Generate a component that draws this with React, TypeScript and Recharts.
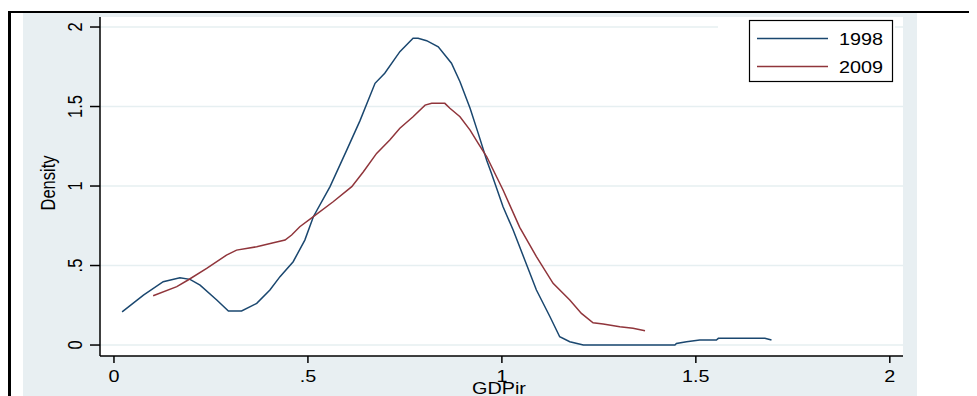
import React from "react";
import { LineChart, Line, XAxis, YAxis, CartesianGrid, Legend } from "recharts";

const seriesNames = ["1998", "2009"];
const xTicks = [0, 0.5, 1, 1.5, 2];
const yTicks = [0, 0.5, 1, 1.5, 2];
const tickLabels: Record<string, string> = { "0": "0", "0.5": ".5", "1": "1", "1.5": "1.5", "2": "2" };

const x1998 = [0.021, 0.076, 0.127, 0.17, 0.196, 0.222, 0.265, 0.295, 0.329, 0.368, 0.402, 0.428, 0.462, 0.492, 0.514, 0.557, 0.6, 0.634, 0.673, 0.698, 0.737, 0.771, 0.784, 0.806, 0.836, 0.87, 0.892, 0.918, 0.939, 0.961, 0.973, 1.003, 1.029, 1.059, 1.089, 1.124, 1.149, 1.175, 1.21, 1.446, 1.45, 1.476, 1.51, 1.553, 1.558, 1.678, 1.695];
const d1998 = [0.209, 0.314, 0.398, 0.423, 0.413, 0.377, 0.283, 0.214, 0.214, 0.262, 0.346, 0.43, 0.524, 0.66, 0.807, 0.996, 1.226, 1.41, 1.646, 1.709, 1.845, 1.929, 1.929, 1.914, 1.876, 1.772, 1.656, 1.489, 1.331, 1.16, 1.08, 0.87, 0.723, 0.535, 0.346, 0.178, 0.052, 0.021, 0.0, 0.0, 0.01, 0.021, 0.031, 0.031, 0.042, 0.042, 0.031];

const x2009 = [0.101, 0.162, 0.191, 0.239, 0.29, 0.316, 0.368, 0.411, 0.441, 0.458, 0.479, 0.514, 0.565, 0.613, 0.643, 0.677, 0.711, 0.737, 0.771, 0.802, 0.819, 0.853, 0.866, 0.892, 0.918, 0.939, 0.961, 1.003, 1.046, 1.089, 1.132, 1.175, 1.205, 1.235, 1.261, 1.304, 1.338, 1.369];
const d2009 = [0.31, 0.367, 0.409, 0.482, 0.566, 0.597, 0.618, 0.643, 0.66, 0.692, 0.744, 0.807, 0.901, 0.996, 1.09, 1.205, 1.289, 1.363, 1.436, 1.509, 1.52, 1.52, 1.489, 1.436, 1.352, 1.268, 1.184, 0.975, 0.74, 0.556, 0.388, 0.283, 0.199, 0.14, 0.132, 0.115, 0.105, 0.09];

const data1998 = x1998.map((x, i) => ({ x, y: d1998[i] }));
const data2009 = x2009.map((x, i) => ({ x, y: d2009[i] }));

const BLUE = "#1a476f";
const RED = "#90353b";
const FONT = "'Liberation Sans', Arial, sans-serif";
const FS = 16.5;
const SX = 1.2;

const XTick = (props: any) => {
  const { x, payload } = props;
  return (
    <text
      transform={`translate(${x},374) scale(${SX},1)`}
      textAnchor="middle"
      fontFamily={FONT}
      fontSize={FS}
      fill="#000"
    >
      {tickLabels[String(payload.value)]}
    </text>
  );
};

const YTick = (props: any) => {
  const { y, payload } = props;
  return (
    <text
      transform={`translate(67,${y}) scale(${SX},1) rotate(-90)`}
      textAnchor="middle"
      dominantBaseline="central"
      fontFamily={FONT}
      fontSize={FS}
      fill="#000"
    >
      {tickLabels[String(payload.value)]}
    </text>
  );
};

const LegendBox = () => (
  <svg width={177} height={76}>
    <rect x={0} y={0} width={177} height={76} fill="#fff" />
    <rect x={31.5} y={3.5} width={143} height={61} fill="#fff" stroke="#000" strokeWidth={1.2} />
    <line x1={39} x2={110} y1={21.5} y2={21.5} stroke={BLUE} strokeWidth={1.5} />
    <line x1={39} x2={110} y1={49.5} y2={49.5} stroke={RED} strokeWidth={1.5} />
    <text transform={`translate(165,27.5) scale(${SX},1)`} textAnchor="end" fontFamily={FONT} fontSize={FS} fill="#000">
      {seriesNames[0]}
    </text>
    <text transform={`translate(165,55.5) scale(${SX},1)`} textAnchor="end" fontFamily={FONT} fontSize={FS} fill="#000">
      {seriesNames[1]}
    </text>
  </svg>
);

export default function App() {
  return (
    <div style={{ position: "relative", width: 969, height: 388, overflow: "hidden" }}>
      <div style={{ position: "absolute", left: 15, top: 5, width: 894, height: 383, background: "#e8eff2" }} />
      <div style={{ position: "absolute", left: 0, top: 3, width: 969, height: 2, background: "#000" }} />
      <div style={{ position: "absolute", left: 0, top: 3, width: 3, height: 385, background: "#000" }} />
      <div style={{ position: "absolute", left: 0, top: 0 }}>
        <LineChart width={969} height={388} margin={{ top: 9, right: 74, bottom: 10, left: 32 }}>
          <CartesianGrid
            vertical={false}
            horizontal={true}
            stroke="#e6eff1"
            strokeWidth={1.5}
            fill="#ffffff"
            fillOpacity={1}
            horizontalValues={yTicks}
          />
          <XAxis
            type="number"
            dataKey="x"
            domain={[-0.036, 2.034]}
            ticks={xTicks}
            allowDataOverflow
            height={30}
            tickSize={7}
            tick={<XTick />}
            axisLine={{ stroke: "#000", strokeWidth: 1.5 }}
            tickLine={{ stroke: "#000", strokeWidth: 1.5 }}
            label={{
              content: () => (
                <text transform={`translate(491,386) scale(${SX},1)`} textAnchor="middle" fontFamily={FONT} fontSize={FS} fill="#000">
                  GDPir
                </text>
              ),
            }}
          />
          <YAxis
            type="number"
            dataKey="y"
            domain={[-0.069, 2.063]}
            ticks={yTicks}
            allowDataOverflow
            width={60}
            tickSize={10}
            tick={<YTick />}
            axisLine={{ stroke: "#000", strokeWidth: 1.5 }}
            tickLine={{ stroke: "#000", strokeWidth: 1.5 }}
            label={{
              content: () => (
                <text
                  transform={`translate(40,175) scale(${SX},1) rotate(-90)`}
                  textAnchor="middle"
                  dominantBaseline="central"
                  fontFamily={FONT}
                  fontSize={FS}
                  fill="#000"
                >
                  Density
                </text>
              ),
            }}
          />
          <Legend
            layout="vertical"
            align="center"
            verticalAlign="middle"
            wrapperStyle={{ position: "absolute", left: 710, top: 9, width: 177, height: 76 }}
            content={() => <LegendBox />}
          />
          <Line data={data1998} dataKey="y" name={seriesNames[0]} type="linear" stroke={BLUE} strokeWidth={1.5} dot={false} isAnimationActive={false} />
          <Line data={data2009} dataKey="y" name={seriesNames[1]} type="linear" stroke={RED} strokeWidth={1.5} dot={false} isAnimationActive={false} />
        </LineChart>
      </div>
    </div>
  );
}
